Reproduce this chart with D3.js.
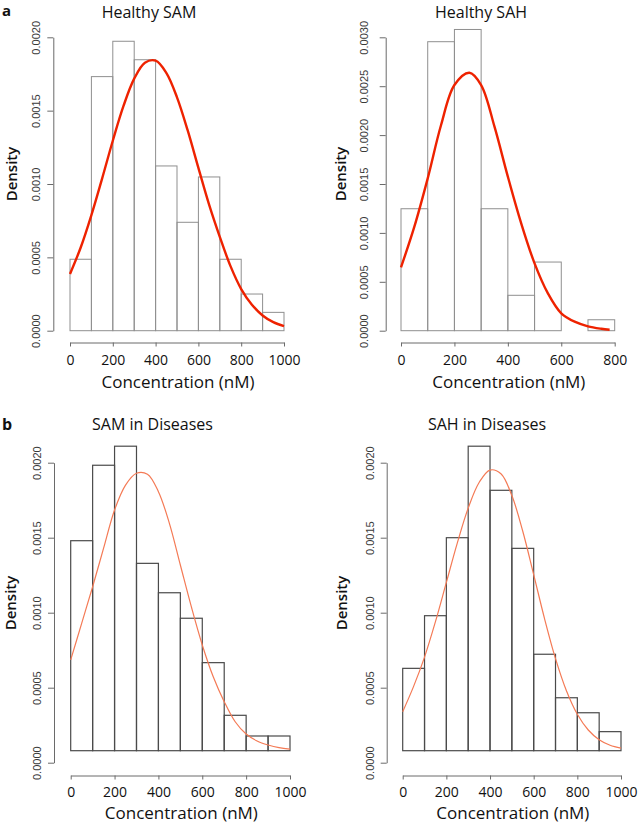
<!DOCTYPE html>
<html>
<head>
<meta charset="utf-8">
<script src="https://cdn.jsdelivr.net/npm/d3@7"></script>
<style>
  html, body { margin: 0; padding: 0; background: #fff; }
  svg { display: block; }
</style>
</head>
<body>
<div id="chart"></div>
<script>
// bin edges (nM)
const edges1000 = [0, 100, 200, 300, 400, 500, 600, 700, 800, 900, 1000]
const edges800 = [0, 100, 200, 300, 400, 500, 600, 700, 800]

// histogram densities
const healthySAMDensity = [0.000487, 0.001732, 0.001973, 0.001847, 0.001123, 0.000739, 0.001048, 0.000487, 0.00025, 0.000125]
const healthySAHDensity = [0.001247, 0.002955, 0.00308, 0.001247, 0.000362, 0.000702, 0, 0.000112]
const diseaseSAMDensity = [0.00148, 0.001983, 0.00211, 0.001329, 0.001133, 0.000963, 0.000667, 0.000316, 0.000178, 0.000178]
const diseaseSAHDensity = [0.000629, 0.00098, 0.0015, 0.00211, 0.001816, 0.001429, 0.000723, 0.000433, 0.000333, 0.000207]

// fitted curves
const fitX1000 = [0, 50, 100, 150, 200, 250, 300, 350, 400, 450, 500, 550, 600, 650, 700, 750, 800, 850, 900, 950, 1000]
const healthySAMFit = [0.000387, 0.000567, 0.000788, 0.001037, 0.001295, 0.001532, 0.001718, 0.001827, 0.001841, 0.001758, 0.001591, 0.001365, 0.00111, 0.00086, 0.00064, 0.000440, 0.000284, 0.000177, 0.000104, 0.000058, 0.000031]
const fitXSAH = [0, 50, 100, 150, 200, 256, 300, 350, 400, 450, 500, 550, 600, 650, 700, 750, 781]
const healthySAHFit = [0.000648, 0.001064, 0.001558, 0.002103, 0.002512, 0.002638, 0.002512, 0.002086, 0.001575, 0.001098, 0.000689, 0.000382, 0.000178, 0.000092, 0.000045, 0.00002, 0.00001]
const diseaseSAMFit = [0.000685, 0.000929, 0.001173, 0.00143, 0.001685, 0.001851, 0.00193, 0.001923, 0.001807, 0.001596, 0.001318, 0.00104, 0.000785, 0.000573, 0.000407, 0.000273, 0.000191, 0.000145, 0.000118, 0.0001, 0.000091]
const diseaseSAHFit = [0.00034, 0.000509, 0.000704, 0.00094, 0.001202, 0.001464, 0.001697, 0.001868, 0.001951, 0.001926, 0.001781, 0.001543, 0.001254, 0.000959, 0.000694, 0.00048, 0.000323, 0.000218, 0.000153, 0.000116, 0.000097]

// ticks
const xTicks1000 = [0, 200, 400, 600, 800, 1000]
const xTicks800 = [0, 200, 400, 600, 800]
const yTicks20 = [0, 0.0005, 0.001, 0.0015, 0.002]
const yTicks30 = [0, 0.0005, 0.001, 0.0015, 0.002, 0.0025, 0.003]

const titles = ["Healthy SAM", "Healthy SAH", "SAM in Diseases", "SAH in Diseases"]

const panels = [
  { title: titles[0], edges: edges1000, dens: healthySAMDensity, fitX: fitX1000, fitY: healthySAMFit,
    xTicks: xTicks1000, yTicks: yTicks20, xMax: 1000, yMax: 0.002,
    xr: [70, 284], yr: [330.7, 37.3], yAxisX: 53.3, xAxisY: 342.5, base: 0, labOff: 13,
    titleX: 149, titleY: 17.5, densX: 16.5, densY: 174, concY: 388, xLabDy: 22.5,
    barStroke: "#8f8f8f", barW: 1, fitColor: "#ee2200", fitW: 2.4 },
  { title: titles[1], edges: edges800, dens: healthySAHDensity, fitX: fitXSAH, fitY: healthySAHFit,
    xTicks: xTicks800, yTicks: yTicks30, xMax: 800, yMax: 0.003,
    xr: [401, 614.7], yr: [330.7, 37.3], yAxisX: 385.7, xAxisY: 342.5, base: 0, labOff: 18,
    titleX: 481, titleY: 17.5, densX: 346, densY: 174, concY: 388, xLabDy: 22.5,
    barStroke: "#8f8f8f", barW: 1, fitColor: "#ee2200", fitW: 2.4 },
  { title: titles[2], edges: edges1000, dens: diseaseSAMDensity, fitX: fitX1000, fitY: diseaseSAMFit,
    xTicks: xTicks1000, yTicks: yTicks20, xMax: 1000, yMax: 0.002,
    xr: [70.7, 290], yr: [762.7, 462.7], yAxisX: 54, xAxisY: 775.5, base: 0.00008, labOff: 13,
    titleX: 152.5, titleY: 430, densX: 16, densY: 603, concY: 819, xLabDy: 21.5,
    barStroke: "#4a4a4a", barW: 1.2, fitColor: "#f47a55", fitW: 1.2 },
  { title: titles[3], edges: edges1000, dens: diseaseSAHDensity, fitX: fitX1000, fitY: diseaseSAHFit,
    xTicks: xTicks1000, yTicks: yTicks20, xMax: 1000, yMax: 0.002,
    xr: [402.7, 621], yr: [762.7, 462.7], yAxisX: 386.7, xAxisY: 775.5, base: 0.00008, labOff: 13,
    titleX: 487, titleY: 430, densX: 347, densY: 603, concY: 819, xLabDy: 21.5,
    barStroke: "#4a4a4a", barW: 1.2, fitColor: "#f47a55", fitW: 1.2 }
]

const svg = d3.select("#chart")
  .append("svg")
  .attr("width", 638)
  .attr("height", 823)

svg.append("rect").attr("width", 638).attr("height", 823).attr("fill", "#fff")

panels.forEach(p => {
  const g = svg.append("g")

  const xScale = d3.scaleLinear().domain([0, p.xMax]).range(p.xr)
  const yScale = d3.scaleLinear().domain([0, p.yMax]).range(p.yr)

  const bins = p.dens.map((d, i) => ({ x0: p.edges[i], x1: p.edges[i + 1], v: d }))

  g.selectAll("rect.bar")
    .data(bins)
    .join("rect")
    .attr("class", "bar")
    .attr("x", d => xScale(d.x0))
    .attr("width", d => xScale(d.x1) - xScale(d.x0))
    .attr("y", d => yScale(Math.max(d.v, p.base)))
    .attr("height", d => yScale(p.base) - yScale(Math.max(d.v, p.base)))
    .attr("fill", "none")
    .attr("stroke", p.barStroke)
    .attr("stroke-width", p.barW)

  const line = d3.line()
    .x((d, i) => xScale(p.fitX[i]))
    .y(d => yScale(d))
    .curve(d3.curveCatmullRom)

  g.append("path")
    .attr("d", line(p.fitY))
    .attr("fill", "none")
    .attr("stroke", p.fitColor)
    .attr("stroke-width", p.fitW)

  // y axis
  const yAxis = d3.axisLeft(yScale)
    .tickValues(p.yTicks)
    .tickSize(6)
    .tickSizeOuter(0)
    .tickFormat(d3.format(".4f"))

  const ya = g.append("g")
    .attr("transform", `translate(${p.yAxisX},0)`)
    .call(yAxis)
  ya.select(".domain").attr("stroke", "#6a6a6a")
  ya.selectAll(".tick line").attr("stroke", "#6a6a6a")
  ya.selectAll(".tick text")
    .attr("transform", "rotate(-90)")
    .attr("x", 0)
    .attr("y", -p.labOff)
    .attr("dy", 0)
    .attr("text-anchor", "middle")
    .attr("font-family", "Liberation Sans, Arial, sans-serif")
    .attr("font-size", 11)
    .attr("fill", "#3a3a3a")

  // x axis
  const xAxis = d3.axisBottom(xScale)
    .tickValues(p.xTicks)
    .tickSize(4)
    .tickSizeOuter(0)
    .tickFormat(d3.format("d"))

  const xa = g.append("g")
    .attr("transform", `translate(0,${p.xAxisY})`)
    .call(xAxis)
  xa.select(".domain").attr("stroke", "#6a6a6a")
  xa.selectAll(".tick line").attr("stroke", "#6a6a6a")
  xa.selectAll(".tick text")
    .attr("y", p.xLabDy)
    .attr("dy", 0)
    .attr("font-family", "Open Sans, sans-serif")
    .attr("font-size", 14)
    .attr("fill", "#111")

  g.append("text")
    .attr("x", p.titleX)
    .attr("y", p.titleY)
    .attr("text-anchor", "middle")
    .attr("font-family", "Open Sans, sans-serif")
    .attr("font-size", 16)
    .attr("fill", "#111")
    .text(p.title)

  g.append("text")
    .attr("transform", `translate(${p.densX},${p.densY}) rotate(-90)`)
    .attr("text-anchor", "middle")
    .attr("font-family", "Open Sans, sans-serif")
    .attr("font-weight", 600)
    .attr("font-size", 15)
    .attr("fill", "#111")
    .text("Density")

  g.append("text")
    .attr("x", (p.xr[0] + p.xr[1]) / 2 + 1)
    .attr("y", p.concY)
    .attr("text-anchor", "middle")
    .attr("font-family", "Open Sans, sans-serif")
    .attr("font-size", 17)
    .attr("fill", "#111")
    .text("Concentration (nM)")
})

// panel letters
svg.append("text").attr("x", 2).attr("y", 16).attr("font-family", "Open Sans, sans-serif")
  .attr("font-weight", 700).attr("font-size", 15).attr("fill", "#111").text("a")
svg.append("text").attr("x", 2).attr("y", 430).attr("font-family", "Open Sans, sans-serif")
  .attr("font-weight", 700).attr("font-size", 16).attr("fill", "#111").text("b")
</script>
</body>
</html>
